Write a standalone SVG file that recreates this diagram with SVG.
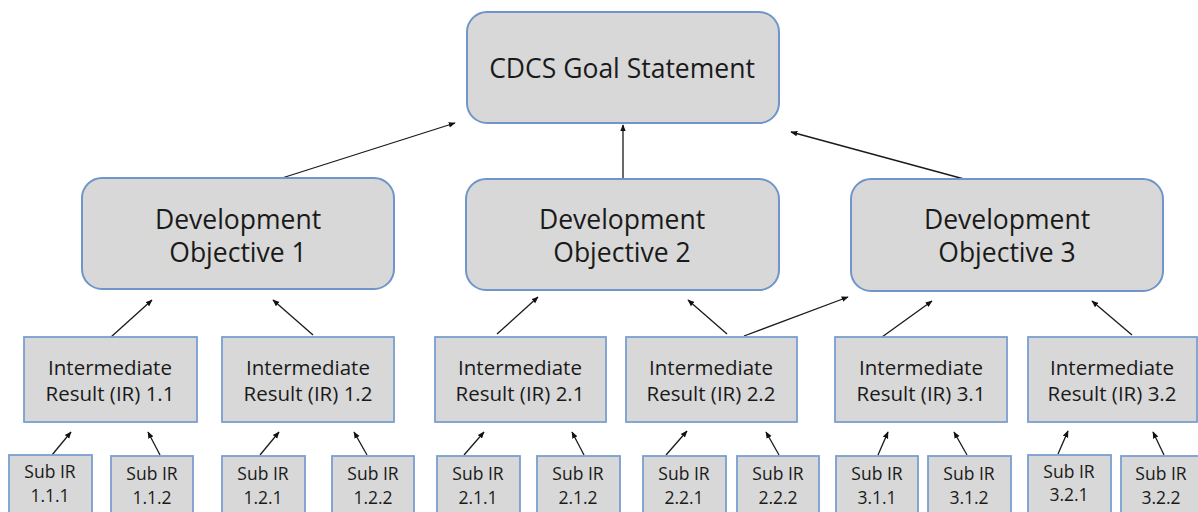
<svg xmlns="http://www.w3.org/2000/svg" width="1198" height="512" viewBox="0 0 1198 512">
<defs>
<marker id="ah" viewBox="0 0 10 10" refX="9" refY="5" markerWidth="7" markerHeight="7" orient="auto" markerUnits="userSpaceOnUse">
<path d="M0,1 L10,5 L0,9 Z" fill="#111"/>
</marker>
<style>
.rr{fill:#d8d8d8;stroke:#6f95c9;stroke-width:2}
.bx{fill:#d8d8d8;stroke:#7a9fd0;stroke-width:1.8}
text{font-family:"Open Sans","Liberation Sans",sans-serif;fill:#1a1a1a;text-anchor:middle}
.t1{font-size:26.5px}
.t2{font-size:26.5px}
.t3{font-size:20.5px}
.t4{font-size:17.5px}
.c{stroke:#1a1a1a;stroke-width:1.3;fill:none;marker-end:url(#ah)}
</style>
</defs>
<rect width="1198" height="512" fill="#fff"/>

<g id="connectors">
<line class="c" x1="282" y1="178" x2="455" y2="123"/>
<line class="c" x1="623" y1="179" x2="623" y2="125"/>
<line class="c" x1="964" y1="179" x2="791" y2="132"/>
<line class="c" x1="111" y1="337" x2="152" y2="300"/>
<line class="c" x1="313" y1="335" x2="273" y2="300"/>
<line class="c" x1="497" y1="334" x2="538" y2="297"/>
<line class="c" x1="727" y1="334" x2="688" y2="300"/>
<line class="c" x1="744" y1="336" x2="848" y2="297"/>
<line class="c" x1="882" y1="337" x2="932" y2="301"/>
<line class="c" x1="1132" y1="335" x2="1092" y2="301"/>
<line class="c" x1="52" y1="455" x2="71" y2="432"/>
<line class="c" x1="160" y1="455" x2="148" y2="432"/>
<line class="c" x1="260" y1="455" x2="279" y2="432"/>
<line class="c" x1="367" y1="455" x2="354" y2="432"/>
<line class="c" x1="464" y1="455" x2="484" y2="432"/>
<line class="c" x1="584" y1="455" x2="572" y2="432"/>
<line class="c" x1="666" y1="455" x2="687" y2="431"/>
<line class="c" x1="779" y1="455" x2="766" y2="432"/>
<line class="c" x1="878" y1="455" x2="888" y2="432"/>
<line class="c" x1="967" y1="455" x2="954" y2="432"/>
<line class="c" x1="1058" y1="454" x2="1068" y2="431"/>
<line class="c" x1="1164" y1="455" x2="1153" y2="432"/>
</g>

<g id="goal">
<rect class="rr" x="467" y="12" width="312" height="111" rx="20"/>
<text class="t1" x="622" y="78">CDCS Goal Statement</text>
</g>

<g id="do1">
<rect class="rr" x="82" y="178" width="312" height="111" rx="20"/>
<text class="t2" x="238" y="229">Development</text>
<text class="t2" x="238" y="262">Objective 1</text>
</g>
<g id="do2">
<rect class="rr" x="466" y="179" width="313" height="111" rx="20"/>
<text class="t2" x="622" y="229">Development</text>
<text class="t2" x="622" y="262">Objective 2</text>
</g>
<g id="do3">
<rect class="rr" x="851" y="179" width="312" height="112" rx="20"/>
<text class="t2" x="1007" y="229">Development</text>
<text class="t2" x="1007" y="262">Objective 3</text>
</g>

<g id="ir11"><rect class="bx" x="24" y="337" width="173" height="85"/>
<text class="t3" x="110" y="375">Intermediate</text><text class="t3" x="110" y="401">Result (IR) 1.1</text></g>
<g id="ir12"><rect class="bx" x="222" y="337" width="172" height="85"/>
<text class="t3" x="308" y="375">Intermediate</text><text class="t3" x="308" y="401">Result (IR) 1.2</text></g>
<g id="ir21"><rect class="bx" x="435" y="337" width="171" height="85"/>
<text class="t3" x="520" y="375">Intermediate</text><text class="t3" x="520" y="401">Result (IR) 2.1</text></g>
<g id="ir22"><rect class="bx" x="626" y="337" width="171" height="85"/>
<text class="t3" x="711" y="375">Intermediate</text><text class="t3" x="711" y="401">Result (IR) 2.2</text></g>
<g id="ir31"><rect class="bx" x="835" y="337" width="172" height="85"/>
<text class="t3" x="921" y="375">Intermediate</text><text class="t3" x="921" y="401">Result (IR) 3.1</text></g>
<g id="ir32"><rect class="bx" x="1028" y="337" width="169" height="85"/>
<text class="t3" x="1112" y="375">Intermediate</text><text class="t3" x="1112" y="401">Result (IR) 3.2</text></g>

<g id="s111"><rect class="bx" x="9" y="455" width="83" height="70"/>
<text class="t4" x="50" y="478">Sub IR</text><text class="t4" x="50" y="502">1.1.1</text></g>
<g id="s112"><rect class="bx" x="111" y="456" width="82" height="70"/>
<text class="t4" x="152" y="480">Sub IR</text><text class="t4" x="152" y="504">1.1.2</text></g>
<g id="s121"><rect class="bx" x="222" y="456" width="83" height="70"/>
<text class="t4" x="263" y="480">Sub IR</text><text class="t4" x="263" y="504">1.2.1</text></g>
<g id="s122"><rect class="bx" x="332" y="456" width="82" height="70"/>
<text class="t4" x="373" y="480">Sub IR</text><text class="t4" x="373" y="504">1.2.2</text></g>
<g id="s211"><rect class="bx" x="437" y="456" width="83" height="70"/>
<text class="t4" x="478" y="480">Sub IR</text><text class="t4" x="478" y="504">2.1.1</text></g>
<g id="s212"><rect class="bx" x="537" y="456" width="83" height="70"/>
<text class="t4" x="578" y="480">Sub IR</text><text class="t4" x="578" y="504">2.1.2</text></g>
<g id="s221"><rect class="bx" x="643" y="456" width="83" height="70"/>
<text class="t4" x="684" y="480">Sub IR</text><text class="t4" x="684" y="504">2.2.1</text></g>
<g id="s222"><rect class="bx" x="737" y="456" width="82" height="70"/>
<text class="t4" x="778" y="480">Sub IR</text><text class="t4" x="778" y="504">2.2.2</text></g>
<g id="s311"><rect class="bx" x="836" y="456" width="82" height="70"/>
<text class="t4" x="877" y="480">Sub IR</text><text class="t4" x="877" y="504">3.1.1</text></g>
<g id="s312"><rect class="bx" x="928" y="456" width="83" height="70"/>
<text class="t4" x="969" y="480">Sub IR</text><text class="t4" x="969" y="504">3.1.2</text></g>
<g id="s321"><rect class="bx" x="1028" y="455" width="83" height="70"/>
<text class="t4" x="1069" y="478">Sub IR</text><text class="t4" x="1069" y="501">3.2.1</text></g>
<g id="s322"><rect class="bx" x="1121" y="456" width="83" height="70"/>
<text class="t4" x="1161" y="480">Sub IR</text><text class="t4" x="1161" y="504">3.2.2</text></g>
</svg>
